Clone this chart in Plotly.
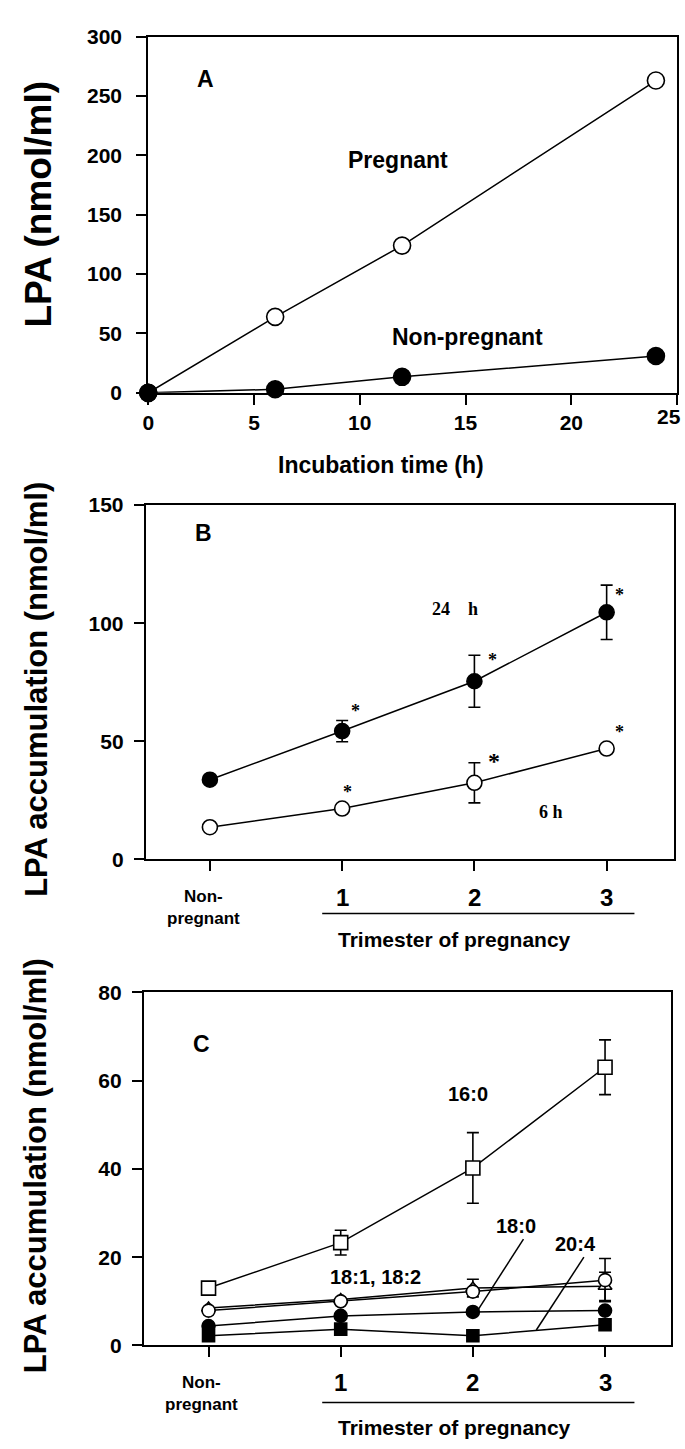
import plotly.graph_objects as go

# ---------------- data ----------------
# Panel A
a_time_h = [0, 6, 12, 24]
a_pregnant = [0, 64, 124, 263]
a_nonpregnant = [0, 3, 13.5, 31]
a_xticks = [0, 5, 10, 15, 20, 25]
a_yticks = [0, 50, 100, 150, 200, 250, 300]

# Panels B and C share the group axis
group_pos = [0, 1, 2, 3]
group_labels = ["Non-<br>pregnant", "1", "2", "3"]

# Panel B
b_24h = [33.7, 54.3, 75.4, 104.6]
b_24h_err = [0, 4.5, 11, 11.5]
b_6h = [13.6, 21.5, 32.4, 46.9]
b_6h_err = [0, 0, 8.5, 0]
b_yticks = [0, 50, 100, 150]

# Panel C
c_16_0 = [13.0, 23.3, 40.2, 63.0]
c_16_0_err = [0, 2.8, 8.0, 6.2]
c_18_1 = [7.9, 10.0, 12.2, 14.8]
c_18_1_err = [0, 0, 0, 4.9]
c_18_2 = [8.5, 10.4, 13.0, 13.4]
c_18_2_err = [0, 0, 2.0, 3.2]
c_18_0 = [4.4, 6.7, 7.6, 7.9]
c_20_4 = [2.2, 3.7, 2.2, 4.7]
c_20_4_err = [0, 0, 1.2, 0]
c_yticks = [0, 20, 40, 60, 80]

# ---------------- layout helpers ----------------
W, H = 685, 1449
def px(p):
    return p / W
def py(p):
    return 1 - p / H

SANS = "Liberation Sans, Arial, Helvetica, sans-serif"
SERIF = "Liberation Serif, Times New Roman, serif"
BLACK = "black"

fig = go.Figure()

LW = 1.5

def add_series(x, y, xa, ya, symbol, size, fill, err=None, errcolor=BLACK):
    kw = {}
    if err is not None:
        kw["error_y"] = dict(type="data", array=err, visible=True, color=errcolor,
                             thickness=1.6, width=6)
    fig.add_trace(go.Scatter(
        x=x, y=y, xaxis=xa, yaxis=ya, mode="lines+markers",
        line=dict(color=BLACK, width=LW),
        marker=dict(symbol=symbol, size=size, color=fill,
                    line=dict(color=BLACK, width=1.6)),
        cliponaxis=False, showlegend=False, hoverinfo="skip", **kw))

# Panel A
add_series(a_time_h, a_pregnant, "x", "y", "circle", 17, "white")
add_series(a_time_h, a_nonpregnant, "x", "y", "circle", 17, BLACK)

# Panel B
add_series(group_pos, b_6h, "x2", "y2", "circle", 15, "white", b_6h_err)
add_series(group_pos, b_24h, "x2", "y2", "circle", 15, BLACK, b_24h_err)

# Panel C
add_series(group_pos, c_20_4, "x3", "y3", "square", 12, BLACK, c_20_4_err, "#888888")
add_series(group_pos, c_18_0, "x3", "y3", "circle", 13, BLACK)
add_series(group_pos, c_18_2, "x3", "y3", "triangle-up", 12, "white", c_18_2_err)
add_series(group_pos, c_18_1, "x3", "y3", "circle", 13, "white", c_18_1_err)
add_series(group_pos, c_16_0, "x3", "y3", "square", 14, "white", c_16_0_err)

TICKFONT = dict(family=SANS, size=21, color=BLACK, weight="bold")
axis_common = dict(showgrid=False, zeroline=False, showline=True, linecolor=BLACK,
                   linewidth=2, mirror=True, ticks="outside", ticklen=10,
                   tickwidth=2, tickcolor=BLACK, tickfont=TICKFONT)

# last A tick label is drawn as an annotation so it stays inside the page
a_xticktext = [str(v) for v in a_xticks[:-1]] + [""]

fig.update_layout(
    width=W, height=H, margin=dict(l=0, r=0, t=0, b=0),
    paper_bgcolor="white", plot_bgcolor="white",
    xaxis=dict(domain=[px(143.5), px(677)], range=[0, 25], tickvals=a_xticks,
               ticktext=a_xticktext, anchor="y", **axis_common),
    yaxis=dict(domain=[py(387), py(25)], range=[0, 300], tickvals=a_yticks,
               anchor="x", ticklabelstandoff=10, **axis_common),
    xaxis2=dict(domain=[px(141), px(674)], range=[-0.485, 3.51], tickvals=group_pos,
                showticklabels=False, anchor="y2", **axis_common),
    yaxis2=dict(domain=[py(861), py(501)], range=[0, 150], tickvals=b_yticks,
                anchor="x2", ticklabelstandoff=6, **axis_common),
    xaxis3=dict(domain=[px(139), px(671)], range=[-0.49, 3.5], tickvals=group_pos,
                showticklabels=False, anchor="y3", **axis_common),
    yaxis3=dict(domain=[py(1355), py(996)], range=[0, 80], tickvals=c_yticks,
                anchor="x3", ticklabelstandoff=6, **axis_common),
)

ann = []
def text(t, x, y, xref, yref, size, family=SANS, bold=True, angle=0, xanchor="center", **kw):
    f = dict(family=family, size=size, color=BLACK)
    if bold:
        f["weight"] = "bold"
    ann.append(dict(text=t, x=x, y=y, xref=xref, yref=yref, showarrow=False,
                    font=f, textangle=angle, xanchor=xanchor, yanchor="middle", **kw))

# Y titles
text("LPA (nmol/ml)", px(33), py(195), "paper", "paper", 37, angle=-90)
text("LPA accumulation (nmol/ml)", px(30), py(688), "paper", "paper", 31, angle=-90)
text("LPA accumulation (nmol/ml)", px(30), py(1172), "paper", "paper", 31, angle=-90)

# Panel A
text(str(a_xticks[-1]), px(683), py(411), "paper", "paper", 21, xanchor="right")
text("Incubation time (h)", px(378), py(460), "paper", "paper", 23)
text("A", 2.7, 264, "x", "y", 23)
text("Pregnant", 11.8, 196, "x", "y", 23)
text("Non-pregnant", 15.1, 47, "x", "y", 23)

# Panel B
text("B", -0.05, 138, "x2", "y2", 23)
text("24\u00a0\u00a0\u00a0\u00a0h", 1.85, 106, "x2", "y2", 18, family=SERIF)
text("6 h", 2.58, 20, "x2", "y2", 18, family=SERIF)
for (sx, sy, ss) in [(1.10, 63, 18), (2.14, 84.5, 18), (3.10, 112, 18),
                     (1.04, 28.5, 18), (2.15, 41.5, 24), (3.10, 54, 18)]:
    text("*", sx, sy, "x2", "y2", ss, family=SERIF)

# Panel C
text("C", -0.05, 68.2, "x3", "y3", 23)
text("16:0", 1.96, 56.9, "x3", "y3", 20)
text("18:1, 18:2", 1.26, 15.4, "x3", "y3", 20)
text("18:0", 2.33, 27, "x3", "y3", 20)
text("20:4", 2.78, 22.9, "x3", "y3", 20)

# Group labels under B and C
for xa, ylab1, ylab2, ytitle in [("x2", 900, 910, 942), ("x3", 1393, 1404, 1438)]:
    for gp, gl in zip(group_pos, group_labels):
        if gp == 0:
            text(gl, gp - 0.05, py(ylab2), xa, "paper", 17)
        else:
            text(gl, gp, py(ylab1), xa, "paper", 24)
    text("Trimester of pregnancy", px(452), py(ytitle), "paper", "paper", 21)

fig.update_layout(annotations=ann)

shapes = []
for yline in [916, 1413]:
    shapes.append(dict(type="line", xref="paper", yref="paper", x0=px(319), x1=px(634),
                       y0=py(yline), y1=py(yline), line=dict(color=BLACK, width=1.6)))
# leader lines in panel C
shapes.append(dict(type="line", xref="x3", yref="y3", x0=2.383, y0=24.1, x1=2.033, y1=7.8,
                   line=dict(color=BLACK, width=1.5)))
shapes.append(dict(type="line", xref="x3", yref="y3", x0=2.84, y0=20.0, x1=2.48, y1=3.5,
                   line=dict(color=BLACK, width=1.5)))
fig.update_layout(shapes=shapes)

fig.write_html("out.html", config={"displayModeBar": False},
               post_script="document.body.style.margin='0';document.body.style.padding='0';")
